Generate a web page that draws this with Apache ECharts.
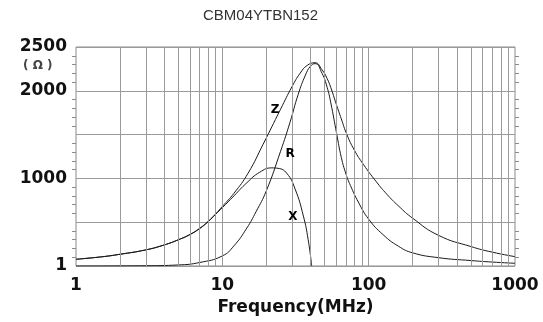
<!DOCTYPE html>
<html>
<head>
<meta charset="utf-8">
<script src="https://cdn.jsdelivr.net/npm/echarts@6/dist/echarts.min.js"></script>
<style>
  html, body { margin: 0; padding: 0; background: #fff; }
  #chartBox { width: 543px; height: 322px; }
</style>
</head>
<body>
<div id="chartBox"></div>
<script>
// 阻抗曲线数据 (MHz / Ω)
var zFreq = [1, 1.5, 2, 3, 4, 5, 6, 7, 8, 9, 10, 12, 15, 19, 25, 30, 34, 38, 43, 48, 52, 55, 60, 65, 71, 80, 92, 113, 133, 160, 200, 300, 500, 700, 1000];
var zVals = [77, 105, 134, 184, 240, 299, 360, 430, 510, 595, 680, 830, 1060, 1390, 1790, 2050, 2200, 2290, 2320, 2240, 2140, 2040, 1850, 1680, 1500, 1320, 1160, 960, 820, 685, 545, 350, 222, 158, 107];

var rFreq = [1, 3, 5, 7, 10, 12, 14.7, 17, 20, 25, 29, 33, 37, 40, 43, 48, 52, 55, 60.5, 65, 70, 75, 85, 100, 125, 160, 200, 300, 500, 700, 1000];
var rVals = [0, 3, 12, 40, 115, 230, 433, 620, 860, 1310, 1640, 1960, 2180, 2280, 2310, 2200, 2040, 1870, 1506, 1240, 1050, 920, 730, 535, 360, 225, 150, 95, 62, 45, 31];

var xFreq = [1, 1.5, 2, 3, 4, 5, 6, 7, 8, 9, 10, 12, 14.7, 18, 21.8, 24, 27.5, 31.4, 35.8, 38.6, 40.8];
var xVals = [77, 105, 134, 184, 240, 299, 358, 427, 505, 590, 665, 800, 950, 1070, 1120, 1115, 1060, 880, 570, 300, 0];

// 竖向网格 (对数刻度)
var gridFreq = [2, 3, 4, 5, 6, 7, 8, 9, 10, 20, 30, 40, 50, 60, 70, 80, 90, 100, 200, 300, 400, 500, 600, 700, 800, 900];
var xTicks = [1, 10, 100, 1000];
var yLabels = {0: '1', 1000: '1000', 2000: '2000', 2500: '2500'};

// 曲线标注位置
var curveTags = [
    {name: 'Z', coord: [22.9, 1780]},
    {name: 'R', coord: [29, 1280]},
    {name: 'X', coord: [30.4, 565]}
];

function pairs(fs, vs) {
    var out = [];
    for (var i = 0; i < fs.length; i++) {
        out.push([fs[i], vs[i]]);
    }
    return out;
}

function tag(name) {
    for (var i = 0; i < curveTags.length; i++) {
        if (curveTags[i].name == name) {
            return curveTags[i];
        }
    }
}

function curve(name, fs, vs) {
    var t = tag(name);
    return {
        name: name,
        type: 'line',
        smooth: true,
        showSymbol: false,
        lineStyle: {color: '#1a1a1a', width: 1},
        data: pairs(fs, vs),
        markPoint: {
            symbol: 'circle',
            symbolSize: 0,
            silent: true,
            label: {
                show: true,
                formatter: name,
                color: '#000',
                fontFamily: 'DejaVu Sans',
                fontWeight: 'bold',
                fontSize: 12
            },
            data: [{coord: t.coord}]
        }
    };
}

function ImpedanceChart() {
    var myChart = echarts.init(document.getElementById('chartBox'));
    var labelFont = {
        fontFamily: 'DejaVu Sans',
        fontWeight: 'bold',
        fontSize: 17,
        color: '#111'
    };
    var zSeries = curve('Z', zFreq, zVals);
    zSeries.markLine = {
        symbol: 'none',
        silent: true,
        animation: false,
        label: {show: false},
        lineStyle: {color: '#9a9a9a', type: 'solid', width: 1},
        data: gridFreq.map(function (f) { return {xAxis: f}; })
    };
    var option = {
        animation: false,
        title: {
            text: 'CBM04YTBN152',
            left: 203,
            top: 8,
            padding: 0,
            textStyle: {
                fontFamily: 'Liberation Sans',
                fontWeight: 'normal',
                fontSize: 15,
                color: '#333'
            }
        },
        // 单位
        graphic: [{
            type: 'text',
            left: 23,
            top: 60,
            style: {
                text: '( Ω )',
                font: 'bold 12px "DejaVu Sans"',
                fill: '#444'
            }
        }],
        grid: {
            left: 76,
            right: 28,
            top: 47,
            bottom: 56,
            show: true,
            borderColor: '#8a8a8a',
            borderWidth: 1
        },
        xAxis: {
            type: 'log',
            logBase: 10,
            min: 1,
            max: 1000,
            name: 'Frequency(MHz)',
            nameLocation: 'middle',
            nameGap: 24,
            nameTextStyle: labelFont,
            axisLine: {show: false},
            axisTick: {show: false},
            splitLine: {show: false},
            axisLabel: Object.assign({
                margin: 11,
                formatter: function (v) {
                    return xTicks.indexOf(Math.round(v)) >= 0 ? String(Math.round(v)) : '';
                }
            }, labelFont)
        },
        yAxis: [
            {
                type: 'value',
                min: 0,
                max: 2500,
                interval: 500,
                axisLine: {show: false},
                axisTick: {show: false},
                minorTick: {show: true, splitNumber: 5, length: 4, lineStyle: {color: '#8a8a8a'}},
                splitLine: {show: true, lineStyle: {color: '#9a9a9a', width: 1}},
                axisLabel: Object.assign({
                    margin: 9,
                    formatter: function (v) {
                        return yLabels[v] || '';
                    }
                }, labelFont)
            },
            {
                type: 'value',
                position: 'right',
                min: 0,
                max: 2500,
                interval: 500,
                axisLine: {show: false},
                axisTick: {show: false},
                axisLabel: {show: false},
                minorTick: {show: true, splitNumber: 5, length: 4, lineStyle: {color: '#8a8a8a'}},
                splitLine: {show: false}
            }
        ],
        series: [
            zSeries,
            curve('R', rFreq, rVals),
            curve('X', xFreq, xVals)
        ]
    };
    myChart.setOption(option);
}

ImpedanceChart();
</script>
</body>
</html>
